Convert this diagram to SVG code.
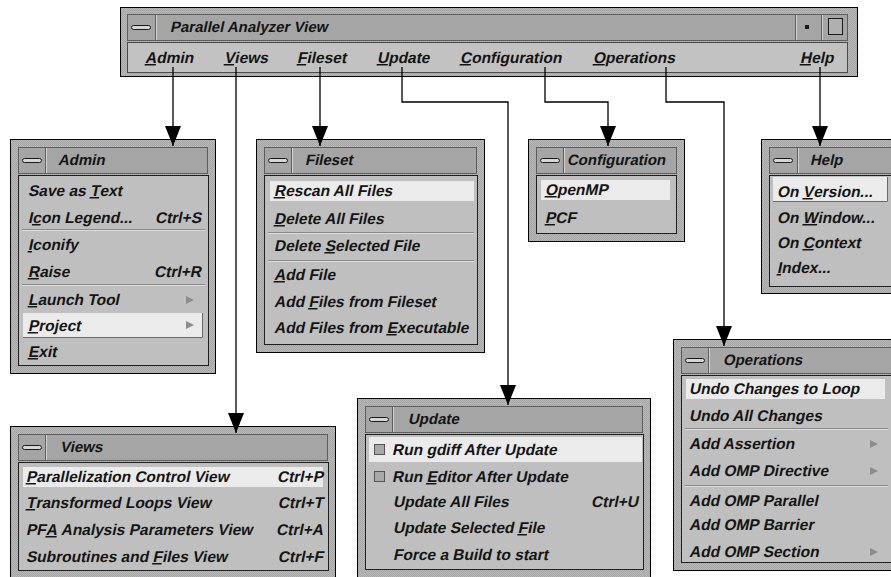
<svg xmlns="http://www.w3.org/2000/svg" width="891" height="577" viewBox="0 0 891 577">
<defs>
<pattern id="stip" width="2" height="2" patternUnits="userSpaceOnUse"><rect width="2" height="2" fill="#bababa"/><rect width="1" height="1" fill="#a4a4a4"/><rect x="1" y="1" width="1" height="1" fill="#a4a4a4"/></pattern>
<marker id="ah" markerUnits="userSpaceOnUse" markerWidth="20" markerHeight="16" refX="20" refY="8" orient="auto"><path d="M0,0 L20,8 L0,16 z" fill="#000"/></marker>
<g id="minicon"><rect x="0.5" y="0.5" width="19" height="4" rx="2" fill="#d6d6d6" stroke="#1a1a1a" stroke-width="1"/></g>
<polygon id="subarrow" points="0,-4 8,0 0,4" fill="#8c8c8c"/>
</defs>
<style>
.frame{fill:url(#stip);stroke:#000;stroke-width:1}
.tbar{fill:#a5a5a5;stroke:#5e5e5e;stroke-width:1}
.body{fill:#bfbfbf;stroke:#1e1e1e;stroke-width:1}
.mbar{fill:#c2c2c2;stroke:#4a4a4a;stroke-width:1}
.hl{fill:#ebebeb}
.hld{fill:none;stroke:#6a6a6a;stroke-width:1}
.div{stroke:#5e5e5e;stroke-width:1}
.divl{stroke:#d2d2d2;stroke-width:1}
.sep{stroke:#8a8a8a;stroke-width:1}
.sepl{stroke:#dcdcdc;stroke-width:1}
text{font-family:"Liberation Sans",Arial,Helvetica,sans-serif;font-style:normal;font-weight:bold;fill:#141414}
.tt{font-size:15px}
.it{font-size:15.5px}
.end{text-anchor:end}
.u{text-decoration:underline}
.conn{fill:none;stroke:#000;stroke-width:1.3;marker-end:url(#ah)}
.cb{fill:#a9a9a9;stroke:#555;stroke-width:1}
</style>

<g id="main-window">
<rect class="frame" x="120.5" y="7.5" width="737" height="69"/>
<rect class="tbar" x="127.5" y="14.5" width="720" height="26"/>
<line class="div" x1="155.5" y1="15" x2="155.5" y2="40"/>
<line class="divl" x1="156.5" y1="15" x2="156.5" y2="40"/>
<use href="#minicon" x="131" y="25"/>
<text class="tt" transform="translate(170,32) skewX(-12)">Parallel Analyzer View</text>
<line class="div" x1="795.5" y1="15" x2="795.5" y2="40"/>
<line class="divl" x1="796.5" y1="15" x2="796.5" y2="40"/>
<rect x="805" y="25" width="4" height="4" fill="#1a1a1a"/>
<line class="div" x1="821.5" y1="15" x2="821.5" y2="40"/>
<line class="divl" x1="822.5" y1="15" x2="822.5" y2="40"/>
<rect x="828.5" y="18.5" width="14" height="16" fill="#b0b0b0" stroke="#1a1a1a" stroke-width="1"/>
<rect class="mbar" x="127.5" y="42.5" width="720" height="30"/>
<text class="it" transform="translate(145,63) skewX(-12)"><tspan class="u">A</tspan>dmin</text>
<text class="it" transform="translate(224,63) skewX(-12)"><tspan class="u">V</tspan>iews</text>
<text class="it" transform="translate(297,63) skewX(-12)"><tspan class="u">F</tspan>ileset</text>
<text class="it" transform="translate(377,63) skewX(-12)"><tspan class="u">U</tspan>pdate</text>
<text class="it" transform="translate(460,63) skewX(-12)"><tspan class="u">C</tspan>onfiguration</text>
<text class="it" transform="translate(593,63) skewX(-12)"><tspan class="u">O</tspan>perations</text>
<text class="it" transform="translate(800,63) skewX(-12)"><tspan class="u">H</tspan>elp</text>
</g>

<g id="admin-menu">
<rect class="frame" x="10.5" y="139.5" width="205" height="234"/>
<rect class="tbar" x="18.5" y="147.5" width="189" height="26"/>
<line class="div" x1="45.5" y1="148" x2="45.5" y2="173"/>
<line class="divl" x1="46.5" y1="148" x2="46.5" y2="173"/>
<use href="#minicon" x="22" y="158"/>
<text class="tt" transform="translate(58,165) skewX(-12)">Admin</text>
<rect class="body" x="18.5" y="175.5" width="190" height="190"/>
<rect class="hl" x="23" y="313" width="180" height="25"/>
<polyline class="hld" points="202.5,313 202.5,337.5 23,337.5"/>
<line class="sep" x1="22" y1="229.5" x2="205" y2="229.5"/>
<line class="sepl" x1="22" y1="230.5" x2="205" y2="230.5"/>
<line class="sep" x1="22" y1="284.5" x2="205" y2="284.5"/>
<line class="sepl" x1="22" y1="285.5" x2="205" y2="285.5"/>
<text class="it" transform="translate(28,196) skewX(-12)">Save as <tspan class="u">T</tspan>ext</text>
<text class="it" transform="translate(28,223) skewX(-12)">I<tspan class="u">c</tspan>on Legend...</text>
<text class="it end" transform="translate(201,223) skewX(-12)">Ctrl+S</text>
<text class="it" transform="translate(28,250) skewX(-12)"><tspan class="u">I</tspan>conify</text>
<text class="it" transform="translate(28,277) skewX(-12)"><tspan class="u">R</tspan>aise</text>
<text class="it end" transform="translate(201,277) skewX(-12)">Ctrl+R</text>
<text class="it" transform="translate(28,305) skewX(-12)"><tspan class="u">L</tspan>aunch Tool</text>
<use href="#subarrow" x="186" y="300"/>
<text class="it" transform="translate(28,331) skewX(-12)"><tspan class="u">P</tspan>roject</text>
<use href="#subarrow" x="186" y="325"/>
<text class="it" transform="translate(28,357) skewX(-12)"><tspan class="u">E</tspan>xit</text>
</g>

<g id="fileset-menu">
<rect class="frame" x="256.5" y="139.5" width="228" height="213"/>
<rect class="tbar" x="264.5" y="147.5" width="212" height="26"/>
<line class="div" x1="291.5" y1="148" x2="291.5" y2="173"/>
<line class="divl" x1="292.5" y1="148" x2="292.5" y2="173"/>
<use href="#minicon" x="268" y="158"/>
<text class="tt" transform="translate(305,165) skewX(-12)">Fileset</text>
<rect class="body" x="264.5" y="175.5" width="213" height="169"/>
<rect class="hl" x="270" y="181" width="204" height="20"/>
<line class="sep" x1="268" y1="232.5" x2="474" y2="232.5"/>
<line class="sepl" x1="268" y1="233.5" x2="474" y2="233.5"/>
<line class="sep" x1="268" y1="260.5" x2="474" y2="260.5"/>
<line class="sepl" x1="268" y1="261.5" x2="474" y2="261.5"/>
<text class="it" transform="translate(274,196) skewX(-12)"><tspan class="u">R</tspan>escan All Files</text>
<text class="it" transform="translate(274,224) skewX(-12)"><tspan class="u">D</tspan>elete All Files</text>
<text class="it" transform="translate(274,251) skewX(-12)">Delete <tspan class="u">S</tspan>elected File</text>
<text class="it" transform="translate(274,280) skewX(-12)"><tspan class="u">A</tspan>dd File</text>
<text class="it" transform="translate(274,307) skewX(-12)">Add <tspan class="u">F</tspan>iles from Fileset</text>
<text class="it" transform="translate(274,333) skewX(-12)">Add Files from <tspan class="u">E</tspan>xecutable</text>
</g>

<g id="configuration-menu">
<rect class="frame" x="528.5" y="139.5" width="156" height="102"/>
<rect class="tbar" x="536.5" y="147.5" width="140" height="26"/>
<line class="div" x1="563.5" y1="148" x2="563.5" y2="173"/>
<line class="divl" x1="564.5" y1="148" x2="564.5" y2="173"/>
<use href="#minicon" x="540" y="158"/>
<text class="tt" transform="translate(567,165) skewX(-12)">Configuration</text>
<rect class="body" x="536.5" y="175.5" width="140" height="58"/>
<rect class="hl" x="541" y="180" width="129" height="20"/>
<text class="it" transform="translate(545,195) skewX(-12)"><tspan class="u">O</tspan>penMP</text>
<text class="it" transform="translate(545,223) skewX(-12)"><tspan class="u">P</tspan>CF</text>
</g>

<g id="help-menu">
<rect class="frame" x="761.5" y="139.5" width="140" height="154"/>
<rect class="tbar" x="769.5" y="147.5" width="124" height="26"/>
<line class="div" x1="797.5" y1="148" x2="797.5" y2="173"/>
<line class="divl" x1="798.5" y1="148" x2="798.5" y2="173"/>
<use href="#minicon" x="773" y="158"/>
<text class="tt" transform="translate(810,165) skewX(-12)">Help</text>
<rect class="body" x="769.5" y="175.5" width="124" height="111"/>
<rect class="hl" x="773" y="177" width="115" height="25"/>
<polyline class="hld" points="887.5,177 887.5,201.5 773,201.5"/>
<text class="it" transform="translate(777,197) skewX(-12)">On <tspan class="u">V</tspan>ersion...</text>
<text class="it" transform="translate(777,223) skewX(-12)">On <tspan class="u">W</tspan>indow...</text>
<text class="it" transform="translate(777,248) skewX(-12)">On <tspan class="u">C</tspan>ontext</text>
<text class="it" transform="translate(777,273) skewX(-12)"><tspan class="u">I</tspan>ndex...</text>
</g>

<g id="operations-menu">
<rect class="frame" x="673.5" y="339.5" width="230" height="231"/>
<rect class="tbar" x="681.5" y="347.5" width="214" height="26"/>
<line class="div" x1="708.5" y1="348" x2="708.5" y2="373"/>
<line class="divl" x1="709.5" y1="348" x2="709.5" y2="373"/>
<use href="#minicon" x="685" y="358"/>
<text class="tt" transform="translate(723,365) skewX(-12)">Operations</text>
<rect class="body" x="681.5" y="375.5" width="214" height="187"/>
<rect class="hl" x="686" y="379" width="199" height="20"/>
<line class="sep" x1="685" y1="428.5" x2="888" y2="428.5"/>
<line class="sepl" x1="685" y1="429.5" x2="888" y2="429.5"/>
<line class="sep" x1="685" y1="485.5" x2="888" y2="485.5"/>
<line class="sepl" x1="685" y1="486.5" x2="888" y2="486.5"/>
<text class="it" transform="translate(689,394) skewX(-12)">Undo Changes to Loop</text>
<text class="it" transform="translate(689,421) skewX(-12)">Undo All Changes</text>
<text class="it" transform="translate(689,449) skewX(-12)">Add Assertion</text>
<use href="#subarrow" x="870" y="444"/>
<text class="it" transform="translate(689,476) skewX(-12)">Add OMP Directive</text>
<use href="#subarrow" x="870" y="471"/>
<text class="it" transform="translate(689,506) skewX(-12)">Add OMP Parallel</text>
<text class="it" transform="translate(689,530) skewX(-12)">Add OMP Barrier</text>
<text class="it" transform="translate(689,557) skewX(-12)">Add OMP Section</text>
<use href="#subarrow" x="870" y="552"/>
</g>

<g id="views-menu">
<rect class="frame" x="10.5" y="426.5" width="325" height="160"/>
<rect class="tbar" x="18.5" y="434.5" width="309" height="26"/>
<line class="div" x1="45.5" y1="435" x2="45.5" y2="460"/>
<line class="divl" x1="46.5" y1="435" x2="46.5" y2="460"/>
<use href="#minicon" x="22" y="445"/>
<text class="tt" transform="translate(60,452) skewX(-12)">Views</text>
<rect class="body" x="18.5" y="462.5" width="310" height="108"/>
<rect class="hl" x="23" y="467" width="300" height="20"/>
<text class="it" transform="translate(26,482) skewX(-12)"><tspan class="u">P</tspan>arallelization Control View</text>
<text class="it end" transform="translate(323,482) skewX(-12)">Ctrl+P</text>
<text class="it" transform="translate(26,508) skewX(-12)"><tspan class="u">T</tspan>ransformed Loops View</text>
<text class="it end" transform="translate(323,508) skewX(-12)">Ctrl+T</text>
<text class="it" transform="translate(26,535) skewX(-12)">PF<tspan class="u">A</tspan> Analysis Parameters View</text>
<text class="it end" transform="translate(323,535) skewX(-12)">Ctrl+A</text>
<text class="it" transform="translate(26,562) skewX(-12)">Subroutines and <tspan class="u">F</tspan>iles View</text>
<text class="it end" transform="translate(323,562) skewX(-12)">Ctrl+F</text>
</g>

<g id="update-menu">
<rect class="frame" x="357.5" y="398.5" width="293" height="185"/>
<rect class="tbar" x="365.5" y="406.5" width="277" height="26"/>
<line class="div" x1="392.5" y1="407" x2="392.5" y2="432"/>
<line class="divl" x1="393.5" y1="407" x2="393.5" y2="432"/>
<use href="#minicon" x="369" y="417"/>
<text class="tt" transform="translate(408,424) skewX(-12)">Update</text>
<rect class="body" x="365.5" y="434.5" width="278" height="135"/>
<rect class="hl" x="369" y="437" width="273" height="25"/>
<rect class="cb" x="374.5" y="444.5" width="10" height="10"/>
<rect class="cb" x="374.5" y="471.5" width="10" height="10"/>
<text class="it" transform="translate(392,455) skewX(-12)">Run <tspan class="u">g</tspan>diff After Update</text>
<text class="it" transform="translate(392,482) skewX(-12)">Run <tspan class="u">E</tspan>ditor After Update</text>
<text class="it" transform="translate(393,507) skewX(-12)">Update All Files</text>
<text class="it end" transform="translate(638,507) skewX(-12)">Ctrl+U</text>
<text class="it" transform="translate(393,533) skewX(-12)">Update Selected <tspan class="u">F</tspan>ile</text>
<text class="it" transform="translate(393,560) skewX(-12)">Force a Build to start</text>
</g>

<g id="connectors">
<path class="conn" d="M173,67 V146"/>
<path class="conn" d="M236,67 V433"/>
<path class="conn" d="M320,67 V146"/>
<path class="conn" d="M402,67 V102 H508 V405"/>
<path class="conn" d="M545,67 V102 H608 V146"/>
<path class="conn" d="M666,67 V102 H724 V346"/>
<path class="conn" d="M820,67 V146"/>
</g>
</svg>
